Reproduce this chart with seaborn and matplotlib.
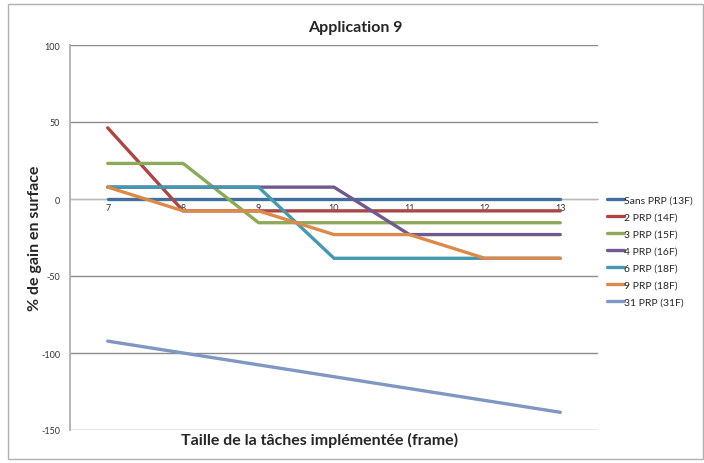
import matplotlib
matplotlib.use("Agg")
import matplotlib.pyplot as plt
import seaborn as sns
import pandas as pd
from matplotlib.patches import Rectangle

categories = ["7", "8", "9", "10", "11", "12", "13"]
series_names = ["Sans PRP (13F)", "2 PRP (14F)", "3 PRP (15F)", "4 PRP (16F)",
                "6 PRP (18F)", "9 PRP (18F)", "31 PRP (31F)"]
sans_prp = [0, 0, 0, 0, 0, 0, 0]
prp2 = [46.2, -7.7, -7.7, -7.7, -7.7, -7.7, -7.7]
prp3 = [23.1, 23.1, -15.4, -15.4, -15.4, -15.4, -15.4]
prp4 = [7.7, 7.7, 7.7, 7.7, -23.1, -23.1, -23.1]
prp6 = [7.7, 7.7, 7.7, -38.5, -38.5, -38.5, -38.5]
prp9 = [7.7, -7.7, -7.7, -23.1, -23.1, -38.5, -38.5]
prp31 = [-92.3, -100.0, -107.7, -115.4, -123.1, -130.8, -138.5]
colors = ["#41709F", "#A94744", "#8DAA5A", "#6E5A8E", "#4499B0", "#DB8A4C", "#7F97C2"]

all_series = [sans_prp, prp2, prp3, prp4, prp6, prp9, prp31]
rows = []
for name, vals in zip(series_names, all_series):
    for i, v in enumerate(vals):
        rows.append({"pos": i, "Taille": categories[i], "gain": v, "serie": name})
df = pd.DataFrame(rows)

sns.set_style("white")
plt.rcParams['font.family'] = ['Lato', 'DejaVu Sans']

fig = plt.figure(figsize=(7.04, 4.64), dpi=100)
ax = fig.add_axes([70/704, 1-431/464, (598-70)/704, (431-46)/464])

sns.lineplot(data=df, x="pos", y="gain", hue="serie", hue_order=series_names,
             palette=colors, linewidth=2.4, ax=ax, legend=True, zorder=3)

ax.set_xlim(-0.5, 6.5)
ax.set_ylim(-150, 100)
ax.set_yticks([-150, -100, -50, 0, 50, 100])
ax.set_yticklabels(["-150", "-100", "-50", "0", "50", "100"], fontsize=6.5, color="#333333")
ax.yaxis.grid(True, color="#8c8c8c", linewidth=1.0)
ax.set_axisbelow(True)

for s in ["top", "right"]:
    ax.spines[s].set_visible(False)
ax.spines["left"].set_color("#b5b5b5")
ax.spines["left"].set_linewidth(1.4)
ax.spines["bottom"].set_position(("data", 0))
ax.spines["bottom"].set_color("#bbbbbb")
ax.spines["bottom"].set_zorder(1)

ax.set_xticks(range(len(categories)))
ax.set_xticklabels(categories, fontsize=6.5, color="#333333")
ax.set_xticks([i - 0.5 for i in range(len(categories) + 1)], minor=True)
ax.tick_params(axis="x", which="major", length=0, pad=3)
ax.tick_params(axis="x", which="minor", length=3, color="#999999", direction="out")
ax.tick_params(axis="y", length=3, color="#8c8c8c", direction="out", pad=4)

ax.set_xlabel("")
ax.set_ylabel("% de gain en surface", fontsize=11.5, fontweight="bold")
ax.yaxis.set_label_coords((42-70)/528, 0.5)
fig.text(320/704, 1-440/464, "Taille de la tâches implémentée (frame)", fontsize=11.5,
         fontweight="bold", ha="center", va="center")
fig.text(355/704, 1-28/464, "Application 9", fontsize=11.5, fontweight="bold",
         ha="center", va="center")

handles, labels = ax.get_legend_handles_labels()
leg = ax.legend(handles, labels, loc="center left", bbox_to_anchor=(603/704, 1-252/464),
                bbox_transform=fig.transFigure, frameon=False, fontsize=7.5,
                handlelength=1.6, handletextpad=0.05, labelspacing=0.75, borderaxespad=0)
for line in leg.get_lines():
    line.set_linewidth(2.4)

fig.patches.append(Rectangle((8/704, 1-460/464), 695/704, 455/464, transform=fig.transFigure,
                             fill=False, edgecolor="#b0b0b0", linewidth=1.0))

fig.savefig("out.png", dpi=100)
